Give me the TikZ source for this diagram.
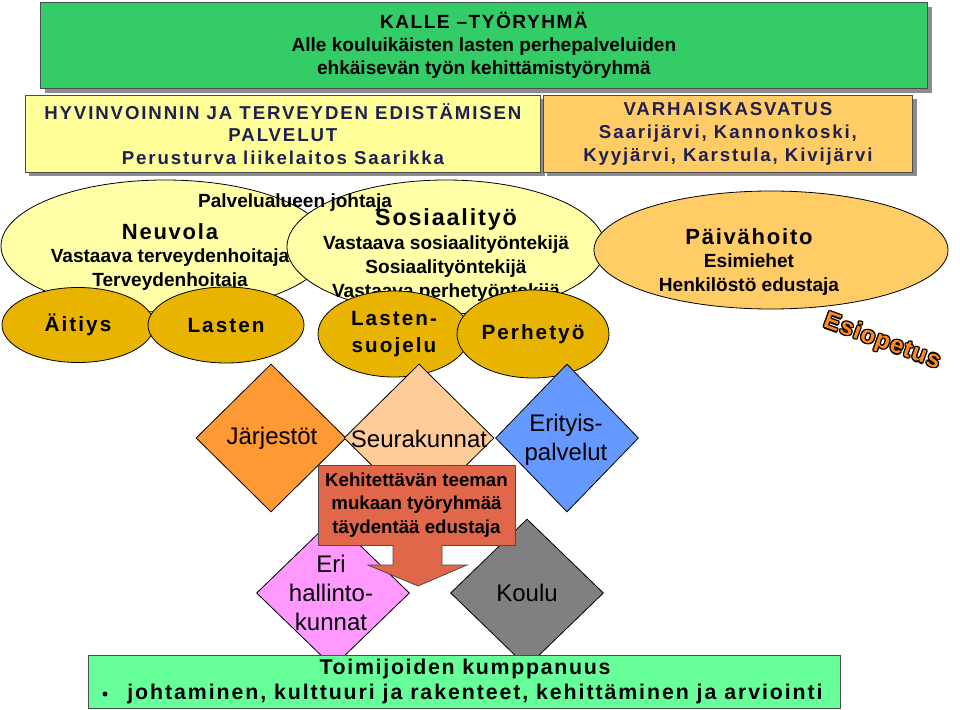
\documentclass[tikz,border=0pt]{standalone}
\usepackage{fontspec}
\setmainfont{Liberation Sans}
\usetikzlibrary{shapes.geometric}
\definecolor{tgreen}{HTML}{33CC66}
\definecolor{bgreen}{HTML}{66FF99}
\definecolor{lyel}{HTML}{FFFF99}
\definecolor{lyel2}{HTML}{FFFFA8}
\definecolor{gold}{HTML}{E8B400}
\definecolor{lorange}{HTML}{FFCC66}
\definecolor{navy}{HTML}{202050}
\definecolor{dorange}{HTML}{FF9933}
\definecolor{peach}{HTML}{FFCC99}
\definecolor{blu}{HTML}{6699FF}
\definecolor{pink}{HTML}{FF99FF}
\definecolor{gry}{HTML}{808080}
\definecolor{brick}{HTML}{E0674A}
\definecolor{esi}{HTML}{FF8C1A}
\tikzset{
 box/.style={draw=black!70, line width=0.6pt, minimum width=#1},
 ell/.style={ellipse, draw, line width=0.6pt, inner sep=0pt},
 dia/.style={diamond, draw, line width=0.6pt, inner sep=0pt, aspect=1},
}
\begin{document}
\begin{tikzpicture}[x=0.75pt,y=-0.75pt]
\useasboundingbox (0,0) rectangle (960,710);
% title
\fill[black!45] (45,7) rectangle (932,93);
\node[box=0,fill=tgreen,minimum width=887*0.75pt,minimum height=86*0.75pt,anchor=north west,align=center,font=\bfseries\fontsize{14.3}{17.5}\selectfont] (title) at (40,2)
 {{\addfontfeature{LetterSpace=8}KALLE –TYÖRYHMÄ}\\Alle kouluikäisten lasten perhepalveluiden\\ehkäisevän työn kehittämistyöryhmä};
% header boxes
\fill[black!45] (29,99) rectangle (545,176);
\node[box=0,fill=lyel,minimum width=515*0.75pt,minimum height=77*0.75pt,anchor=north west,align=center,text=navy,font=\bfseries\fontsize{14}{17}\selectfont\addfontfeature{LetterSpace=10}] (hyv) at (25,95)
 {HYVINVOINNIN JA TERVEYDEN EDISTÄMISEN\\PALVELUT\\Perusturva liikelaitos Saarikka};
\fill[black!45] (547,99) rectangle (917,176);
\node[box=0,fill=lorange,minimum width=369*0.75pt,minimum height=77*0.75pt,anchor=north west,align=center,text=navy,font=\bfseries\fontsize{14}{17}\selectfont\addfontfeature{LetterSpace=10}] (var) at (543,95)
 {VARHAISKASVATUS\\Saarijärvi, Kannonkoski,\\Kyyjärvi, Karstula, Kivijärvi};
% big ellipses
\node[ell,fill=lyel2,minimum width=328*0.75pt,minimum height=132*0.75pt] (neu) at (165,246) {};
\node[ell,fill=lyel2,minimum width=318*0.75pt,minimum height=134*0.75pt] (sos) at (446,247) {};
\node[ell,fill=lorange,minimum width=354*0.75pt,minimum height=118*0.75pt] (pai) at (771,250) {};
\node[font=\bfseries\fontsize{14.3}{16}\selectfont] (pj) at (295,203) {Palvelualueen johtaja};
\node[align=center,font=\bfseries\fontsize{14.3}{17.5}\selectfont] (neut) at (170,257)
 {{\fontsize{16.5}{17.5}\selectfont\addfontfeature{LetterSpace=8}Neuvola}\\Vastaava terveydenhoitaja\\Terveydenhoitaja};
\node[align=center,font=\bfseries\fontsize{14.3}{18}\selectfont] (sost) at (446,255)
 {{\fontsize{17.5}{18}\selectfont\addfontfeature{LetterSpace=8}Sosiaalityö}\\Vastaava sosiaalityöntekijä\\Sosiaalityöntekijä\\Vastaava perhetyöntekijä};
\node[align=center,font=\bfseries\fontsize{14.3}{17.5}\selectfont] (pait) at (749,262)
 {{\fontsize{16.5}{17.5}\selectfont\addfontfeature{LetterSpace=8}Päivähoito}\\Esimiehet\\Henkilöstö edustaja};
% small ellipses
\tikzset{sm/.style={ell,fill=gold,font=\bfseries\fontsize{15.5}{20}\selectfont\addfontfeature{LetterSpace=10},align=center}}
\node[sm,minimum width=152*0.75pt,minimum height=75*0.75pt] (ait) at (78,325) {Äitiys};
\node[sm,minimum width=156*0.75pt,minimum height=76*0.75pt] (las) at (226,325) {Lasten};
\node[sm,minimum width=152*0.75pt,minimum height=86*0.75pt] (lsu) at (394,334) {Lasten-\\suojelu};
\node[sm,minimum width=152*0.75pt,minimum height=88*0.75pt] (per) at (533,334) {Perhetyö};
% Esiopetus
\foreach \dx/\dy in {-1.2/0,1.2/0,0/-1.2,0/1.2,-1/-1,1/1,-1/1,1/-1}
 \node[rotate=-20,font=\bfseries\fontsize{18}{18}\selectfont\addfontfeature{LetterSpace=4},text=black] at (882+\dx,342+\dy) {Esiopetus};
\node[rotate=-20,font=\bfseries\fontsize{18}{18}\selectfont\addfontfeature{LetterSpace=4},text=esi] (esi) at (882,342) {Esiopetus};
% diamonds
\tikzset{dd/.style={dia,minimum width=150*0.75pt,minimum height=148*0.75pt}}
\node[dd,fill=dorange] (jar) at (271,438) {};
\node[dd,fill=peach] (seu) at (419,438) {};
\node[dd,fill=blu,minimum width=143*0.75pt] (eri) at (567,438) {};
\node[dd,fill=pink,minimum width=153*0.75pt] (hal) at (333,593) {};
\node[dd,fill=gry,minimum width=153*0.75pt] (kou) at (527,593) {};
\tikzset{dt/.style={font=\fontsize{18}{22}\selectfont,align=center}}
\node[dt] (jart) at (272,438) {Järjestöt};
\node[dt] (seut) at (419,439) {Seurakunnat};
\node[dt] (erit) at (566,440) {Erityis-\\palvelut};
\node[dt] (kout) at (527,593) {Koulu};
% arrow box
\node[draw=black!70,line width=0.6pt,fill=brick,minimum width=197*0.75pt,minimum height=80*0.75pt,align=center,font=\bfseries\fontsize{14}{17.5}\selectfont] (keh) at (416.5,505)
 {Kehitettävän teeman\\mukaan työryhmää\\täydentää edustaja};
\fill[brick] (393,544) -- (393,565) -- (368,565) -- (418,586) -- (467,565) -- (442,565) -- (442,544) -- cycle;
\draw[black!70,line width=0.6pt] (393,545) -- (393,565) -- (368,565) -- (418,586) -- (467,565) -- (442,565) -- (442,545);
\node[dt] (halt) at (331,593) {Eri\\hallinto-\\kunnat};
% bottom
\node[box=0,fill=bgreen,minimum width=752*0.75pt,minimum height=53*0.75pt,anchor=north west] (bot) at (88,655) {};
\node[font=\bfseries\fontsize{16}{16}\selectfont\addfontfeature{LetterSpace=8}] (tk) at (465,669) {Toimijoiden kumppanuus};
\node[font=\bfseries\fontsize{16}{16}\selectfont\addfontfeature{LetterSpace=9}] (jk) at (475,694) {johtaminen, kulttuuri ja rakenteet, kehittäminen ja arviointi};
\fill (105,694) circle (2.5);
\end{tikzpicture}
\end{document}
